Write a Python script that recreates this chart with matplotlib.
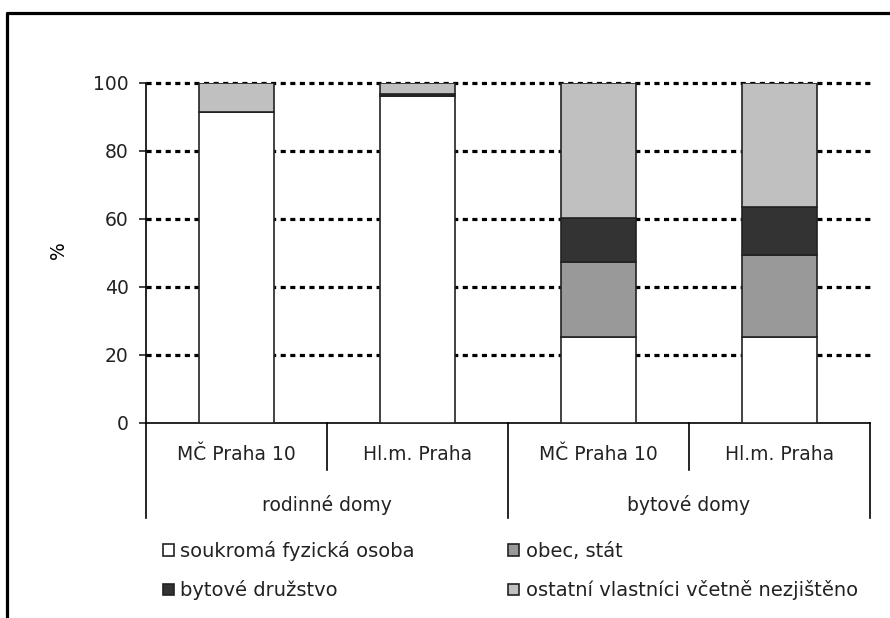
import matplotlib.pyplot as plt
from matplotlib.patches import Patch
from matplotlib.lines import Line2D
import numpy as np

plt.rcParams['font.family'] = ['DejaVu Sans']
plt.rcParams['font.size'] = 13.5

# data (percent of houses by owner)
sub_labels = ['MČ Praha 10', 'Hl.m. Praha', 'MČ Praha 10', 'Hl.m. Praha']
group_labels = ['rodinné domy', 'bytové domy']
series_names = ['soukromá fyzická osoba', 'obec, stát', 'bytové družstvo',
                'ostatní vlastníci včetně nezjištěno']
soukroma = [91.3, 96.0, 25.2, 25.2]
obec = [0.0, 0.2, 22.0, 24.3]
druzstvo = [0.0, 0.6, 12.9, 14.1]
ostatni = [8.7, 3.2, 39.9, 36.4]
colors = ['#ffffff', '#999999', '#333333', '#c0c0c0']

fig = plt.figure(figsize=(8.9, 6.18), dpi=100)
ax = fig.add_axes([146/890, 195/618, 724/890, 340.3/618])

x = np.arange(len(sub_labels)) + 0.5
bottom = np.zeros(len(x))
handles = []
for vals, c, name in zip([soukroma, obec, druzstvo, ostatni], colors, series_names):
    ax.bar(x, vals, 0.41, bottom=bottom, color=c, edgecolor='#222222',
           linewidth=1.2, zorder=3)
    bottom += np.array(vals)
    handles.append(Patch(facecolor=c, edgecolor='#222222', linewidth=1.2))

ax.set_xlim(0, 4)
ax.set_ylim(0, 100)
ax.set_yticks(range(0, 101, 20))
for v in range(20, 101, 20):
    ax.axhline(v, color='black', lw=2.3, ls=(0, (1.6, 1.4)), zorder=1, clip_on=False)

for s in ['top', 'right']:
    ax.spines[s].set_visible(False)
ax.spines['left'].set_linewidth(1.2)
ax.spines['bottom'].set_linewidth(1.2)
ax.spines['left'].set_bounds(0, 100)
ax.tick_params(axis='y', length=5, width=1.2, pad=7.5, colors='#222222')
ax.set_xticks([])
ax.set_ylabel('%')
ax.yaxis.set_label_coords(-(146 - 68)/724, 0.508)

# category axis below
px = 1/340.3
for xs in [1, 3]:
    ax.plot([xs, xs], [0, -47*px], color='black', lw=1.2,
            transform=ax.get_xaxis_transform(), clip_on=False)
for xs in [0, 2, 4]:
    ax.plot([xs, xs], [0, -95*px], color='black', lw=1.2,
            transform=ax.get_xaxis_transform(), clip_on=False)
for xi, lab in zip(x, sub_labels):
    ax.text(xi, -32*px, lab, transform=ax.get_xaxis_transform(),
            ha='center', va='center', color='#222222')
for xi, lab in zip([1, 3], group_labels):
    ax.text(xi, -82*px, lab, transform=ax.get_xaxis_transform(),
            ha='center', va='center', color='#222222')

# legend: rows soukroma/obec, druzstvo/ostatni
order = [0, 2, 1, 3]
fig.legend([handles[i] for i in order], [series_names[i] for i in order],
           ncol=2, loc='upper left', bbox_to_anchor=(163/890, 1 - 541/618),
           frameon=False, handlelength=0.55, handleheight=0.55,
           handletextpad=0.35, columnspacing=4.8, labelspacing=1.0,
           borderaxespad=0, borderpad=0, fontsize=14, labelcolor='#222222')

# outer frame (cut by the image edge)
fig.add_artist(Line2D([6.5/890, 6.5/890, 1.01], [-0.01, 1 - 12.5/618, 1 - 12.5/618],
                      color='black', lw=2.3, transform=fig.transFigure))

fig.savefig('out.png', dpi=100)
